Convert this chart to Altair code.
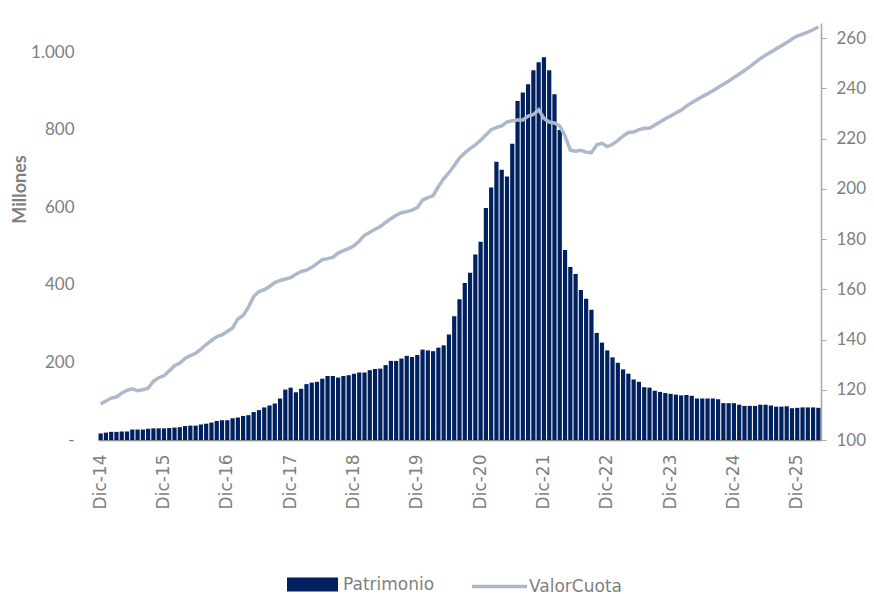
import altair as alt
import pandas as pd

# ---- data -------------------------------------------------------------
mes_abrev = ["Ene", "Feb", "Mar", "Abr", "May", "Jun", "Jul", "Ago", "Sep", "Oct", "Nov", "Dic"]

patrimonio = [
    17, 19, 21, 21, 22, 22, 27, 27, 27, 29, 30, 30, 30, 31, 32, 33, 36, 37, 37, 40,
    42, 45, 49, 51, 51, 56, 58, 62, 64, 72, 77, 84, 89, 94, 107, 130, 135, 123, 132, 144,
    148, 150, 158, 165, 165, 161, 165, 167, 171, 174, 174, 180, 183, 184,
    193, 204, 204, 210, 217, 214, 219, 233, 231, 229, 238, 244, 272, 319, 363, 405,
    431, 478, 511, 598, 651, 717, 697, 679, 764, 874, 896, 917, 953, 974, 987, 953,
    891, 799, 490, 446, 428, 387, 364, 336, 276, 251, 231, 213, 199,
    182, 171, 156, 150, 136, 135, 127, 124, 121, 119, 117, 115, 116, 114, 107, 107,
    107, 107, 105, 95, 95, 95, 91, 88, 88, 88, 91, 91, 89, 86, 86, 87, 82, 83, 84,
    84, 84, 83,
]

valor_cuota = [
    114.3, 115.5, 116.7, 117.1, 118.6, 119.8, 120.4, 119.6, 120.0, 120.6,
    123.4, 124.8, 125.6, 127.5, 129.6, 130.6, 132.5, 133.6, 134.5, 136.2,
    138.0, 139.6, 141.1, 141.8, 143.2, 144.6, 148.2, 149.6, 152.8, 157.1,
    159.1, 159.8, 161.1, 162.7, 163.5, 164.1, 164.6, 166.0, 167.1, 167.6,
    168.8, 170.2, 171.8, 172.2, 172.7, 174.4, 175.4, 176.2, 177.3, 179.2,
    181.5, 182.7, 183.9, 185.0, 186.6, 188.1, 189.5, 190.5, 190.9, 191.5,
    192.5, 195.5, 196.5, 197.3, 200.9, 204.0, 206.4, 209.2, 212.3, 214.3,
    216.0, 217.5, 219.3, 221.4, 223.5, 224.4, 225.0, 226.6, 227.1, 227.4,
    227.4, 228.9, 229.6, 231.5, 228.0, 226.6, 226.2, 225.0, 221.0, 215.4,
    215.0, 215.3, 214.6, 214.4, 217.5, 218.1, 216.8, 217.7, 219.3, 221.0,
    222.4, 222.6, 223.5, 224.1, 224.1, 225.4, 226.6, 227.9, 229.0, 230.2,
    231.3, 232.9, 234.3, 235.5, 236.7, 237.8, 239.0, 240.3, 241.6, 242.9,
    244.3, 245.7, 247.1, 248.5, 250.2, 251.8, 253.2, 254.4, 255.7, 256.9,
    258.2, 259.6, 260.8, 261.6, 262.4, 263.3, 264.4,
]

# month labels from Dic-14 onward
meses = []
for k in range(len(patrimonio)):
    m = (11 + k) % 12
    y = 14 + (11 + k) // 12
    meses.append(f"{mes_abrev[m]}-{y:02d}")

etiquetas_x = [f"Dic-{a}" for a in range(14, 26)]
ticks_izq = [0, 200, 400, 600, 800, 1000]
ticks_der = [100, 120, 140, 160, 180, 200, 220, 240, 260]

df = pd.DataFrame({
    "mes": meses,
    "Patrimonio": patrimonio,
    "ValorCuota": valor_cuota,
    "sb": ["Patrimonio"] * len(meses),
    "sl": ["ValorCuota"] * len(meses),
})

GRAY = "#7f7f7f"
NAVY = "#002060"
LINE = "#adb9ca"

x_enc = alt.X(
    "mes:N",
    sort=meses,
    scale=alt.Scale(paddingInner=0.2, paddingOuter=0.1),
    axis=alt.Axis(
        values=etiquetas_x,
        labelAngle=-90,
        labelFont="DejaVu Sans",
        labelFontSize=17,
        labelColor=GRAY,
        labelPadding=14,
        ticks=False,
        domainColor="#8c8c8c",
        domainWidth=1.5,
        title=None,
        grid=False,
    ),
)

base = alt.Chart(df)

bars = base.mark_bar().encode(
    x=x_enc,
    y=alt.Y(
        "Patrimonio:Q",
        scale=alt.Scale(domain=[0, 1075], nice=False),
        axis=alt.Axis(
            values=ticks_izq,
            labelExpr="datum.value == 0 ? '-' : replace(format(datum.value, ','), ',', '.')",
            labelFont="Lato",
            labelFontSize=17,
            labelColor=GRAY,
            labelPadding=24,
            ticks=False,
            domain=False,
            grid=False,
            title="Millones",
            titleFont="Lato",
            titleFontSize=18,
            titleFontWeight="bold",
            titleColor=GRAY,
            titleAngle=-90,
            titleX=-78,
            titleY=166,
            titleAlign="center",
            titleBaseline="middle",
        ),
    ),
    color=alt.Color(
        "sb:N",
        scale=alt.Scale(domain=["Patrimonio"], range=[NAVY]),
        legend=alt.Legend(
            orient="none",
            legendX=189,
            legendY=536,
            title=None,
            symbolType="M-1,-0.275H1V0.275H-1Z",
            symbolSize=2601,
            symbolStrokeWidth=0,
            labelFont="DejaVu Sans",
            labelFontSize=17,
            labelColor=GRAY,
            labelOffset=5,
            padding=0,
        ),
    ),
)

line = base.mark_line(strokeWidth=3.5).encode(
    x=alt.X("mes:N", sort=meses),
    y=alt.Y(
        "ValorCuota:Q",
        scale=alt.Scale(domain=[100, 266], nice=False, zero=False),
        axis=alt.Axis(
            orient="right",
            values=ticks_der,
            labelFont="Lato",
            labelFontSize=17,
            labelColor=GRAY,
            labelPadding=10,
            tickSize=5,
            tickColor="#a6a6a6",
            domainColor="#a6a6a6",
            domainWidth=1.5,
            grid=False,
            title=None,
        ),
    ),
    stroke=alt.Stroke(
        "sl:N",
        scale=alt.Scale(domain=["ValorCuota"], range=[LINE]),
        legend=alt.Legend(
            orient="none",
            legendX=372,
            legendY=534,
            title=None,
            symbolType="stroke",
            symbolSize=3025,
            symbolStrokeWidth=3.5,
            labelFont="DejaVu Sans",
            labelFontSize=17,
            labelColor=GRAY,
            labelOffset=0,
            padding=0,
        ),
    ),
)

chart = (
    alt.layer(bars, line)
    .resolve_scale(y="independent")
    .properties(
        width=723,
        height=417,
        autosize=alt.AutoSizeParams(type="none"),
        padding={"left": 90, "top": 15, "right": 45, "bottom": 154},
    )
    .configure(background="white")
    .configure_view(strokeWidth=0, stroke="transparent")
)

chart.save("out.html", embed_options={"renderer": "svg", "actions": False})
